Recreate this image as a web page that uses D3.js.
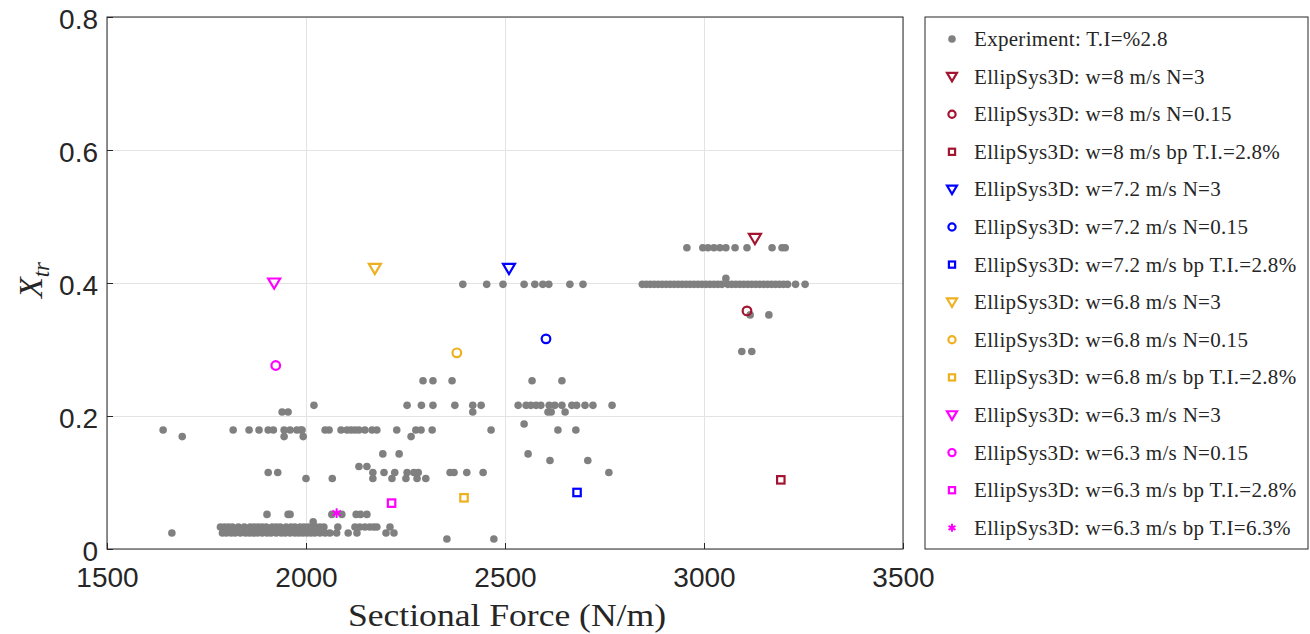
<!DOCTYPE html>
<html>
<head>
<meta charset="utf-8">
<script src="https://cdn.jsdelivr.net/npm/d3@7"></script>
<style>
  body { margin: 0; background: #fff; }
  .grid line { stroke: #e3e3e3; }
  .grid path { display: none; }
</style>
</head>
<body>
<div id="chart"></div>
<script>
// experiment data (force N/m, transition location)
var expForce = [1641, 1689, 1663,
  1817, 1857, 1882, 1905, 1918, 1945, 1960, 1977, 1987, 1990, 2048, 2058, 2088, 2103, 2113, 2123, 2133, 2148, 2166, 2178, 2228, 2276, 2289, 2317, 2465, 2633, 2678,
  1945, 1993, 2264,
  1940, 1955, 2419, 2608, 2616, 2651,
  2020, 2254, 2290, 2319, 2374, 2419, 2440, 2533, 2553, 2565, 2578, 2590, 2611, 2625, 2643, 2668, 2680, 2701, 2721, 2769,
  2548,
  2294, 2319, 2367, 2568, 2643,
  2193, 2234, 2558,
  2613, 2708,
  2133, 2153,
  1905, 1929, 2168, 2196, 2223, 2254, 2271, 2282, 2362, 2372, 2404, 2445, 2761,
  2000, 2066, 2168, 2216, 2251, 2279, 2301,
  1902, 1955, 1960, 2065, 2090, 2126, 2137, 2153,
  2018,
  1785, 1795, 1805, 1815, 1830, 1845, 1860, 1870, 1880, 1890, 1900, 1915, 1925, 1935, 1950, 1962, 1972, 1985, 1995, 2005, 2015, 2025, 2035, 2045, 2080, 2123, 2135, 2148, 2160, 2170, 2178, 2211,
  1790, 1800, 1812, 1822, 1835, 1848, 1858, 1868, 1878, 1890, 1902, 1912, 1925, 1938, 1948, 1960, 1972, 1982, 1992, 2002, 2012, 2022, 2035, 2048, 2060, 2077, 2106, 2128, 2201, 2221,
  2354, 2472,
  2394, 2454, 2495, 2548, 2575, 2595, 2610, 2663, 2696,
  2845, 2855, 2865, 2875, 2885, 2895, 2905, 2915, 2925, 2935, 2945, 2955, 2965, 2975, 2985, 2995, 3005, 3015, 3025, 3035, 3045, 3060, 3070, 3080, 3090, 3100, 3110, 3120, 3130, 3140, 3150, 3160, 3170, 3180, 3190, 3200, 3210, 3230, 3254,
  3055,
  2957, 2997, 3010, 3025, 3040, 3055, 3078, 3108, 3171, 3196, 3204,
  3116, 3163,
  3095, 3120];
var expXtr = [0.179, 0.169, 0.024,
  0.179, 0.179, 0.179, 0.179, 0.179, 0.179, 0.179, 0.179, 0.179, 0.179, 0.179, 0.179, 0.179, 0.179, 0.179, 0.179, 0.179, 0.179, 0.179, 0.179, 0.179, 0.179, 0.179, 0.179, 0.179, 0.179, 0.179,
  0.169, 0.169, 0.169,
  0.206, 0.206, 0.206, 0.206, 0.206, 0.206,
  0.216, 0.216, 0.216, 0.216, 0.216, 0.216, 0.216, 0.216, 0.216, 0.216, 0.216, 0.216, 0.216, 0.216, 0.216, 0.216, 0.216, 0.216, 0.216, 0.216,
  0.188,
  0.253, 0.253, 0.253, 0.253, 0.253,
  0.143, 0.143, 0.143,
  0.133, 0.133,
  0.124, 0.124,
  0.115, 0.115, 0.115, 0.115, 0.115, 0.115, 0.115, 0.115, 0.115, 0.115, 0.115, 0.115, 0.115,
  0.106, 0.106, 0.106, 0.106, 0.106, 0.106, 0.106,
  0.052, 0.052, 0.052, 0.052, 0.052, 0.052, 0.052, 0.052,
  0.041,
  0.033, 0.033, 0.033, 0.033, 0.033, 0.033, 0.033, 0.033, 0.033, 0.033, 0.033, 0.033, 0.033, 0.033, 0.033, 0.033, 0.033, 0.033, 0.033, 0.033, 0.033, 0.033, 0.033, 0.033, 0.033, 0.033, 0.033, 0.033, 0.033, 0.033, 0.033, 0.033,
  0.024, 0.024, 0.024, 0.024, 0.024, 0.024, 0.024, 0.024, 0.024, 0.024, 0.024, 0.024, 0.024, 0.024, 0.024, 0.024, 0.024, 0.024, 0.024, 0.024, 0.024, 0.024, 0.024, 0.024, 0.024, 0.024, 0.024, 0.024, 0.024, 0.024,
  0.015, 0.015,
  0.398, 0.398, 0.398, 0.398, 0.398, 0.398, 0.398, 0.398, 0.398,
  0.398, 0.398, 0.398, 0.398, 0.398, 0.398, 0.398, 0.398, 0.398, 0.398, 0.398, 0.398, 0.398, 0.398, 0.398, 0.398, 0.398, 0.398, 0.398, 0.398, 0.398, 0.398, 0.398, 0.398, 0.398, 0.398, 0.398, 0.398, 0.398, 0.398, 0.398, 0.398, 0.398, 0.398, 0.398, 0.398, 0.398, 0.398, 0.398,
  0.407,
  0.453, 0.453, 0.453, 0.453, 0.453, 0.453, 0.453, 0.453, 0.453, 0.453, 0.453,
  0.352, 0.352,
  0.297, 0.297];

// EllipSys3D runs
var simLabels = ["EllipSys3D: w=8 m/s N=3", "EllipSys3D: w=8 m/s N=0.15", "EllipSys3D: w=8 m/s bp T.I.=2.8%",
  "EllipSys3D: w=7.2 m/s N=3", "EllipSys3D: w=7.2 m/s N=0.15", "EllipSys3D: w=7.2 m/s bp T.I.=2.8%",
  "EllipSys3D: w=6.8 m/s N=3", "EllipSys3D: w=6.8 m/s N=0.15", "EllipSys3D: w=6.8 m/s bp T.I.=2.8%",
  "EllipSys3D: w=6.3 m/s N=3", "EllipSys3D: w=6.3 m/s N=0.15", "EllipSys3D: w=6.3 m/s bp T.I.=2.8%",
  "EllipSys3D: w=6.3 m/s bp T.I=6.3%"];
var simForce = [3128, 3108, 3193, 2510, 2603, 2681, 2173, 2379, 2397, 1920, 1924, 2215, 2077];
var simXtr = [0.467, 0.358, 0.104, 0.422, 0.316, 0.085, 0.422, 0.295, 0.077, 0.400, 0.276, 0.069, 0.054];
var simShape = ["tri", "circ", "sq", "tri", "circ", "sq", "tri", "circ", "sq", "tri", "circ", "sq", "star"];
var simColor = ["#A2142F", "#A2142F", "#A2142F", "#0000FF", "#0000FF", "#0000FF",
  "#EDB120", "#EDB120", "#EDB120", "#FF00FF", "#FF00FF", "#FF00FF", "#FF00FF"];

var xTicks = [1500, 2000, 2500, 3000, 3500];
var yTicks = [0, 0.2, 0.4, 0.6, 0.8];

var margin = {top: 17, left: 107};
var width = 796, height = 532;

var svg = d3.select("#chart").append("svg")
  .attr("width", 1310).attr("height", 634);

var xVerdi = d3.scaleLinear().domain([1500, 3500]).range([0, width]);
var yVerdi = d3.scaleLinear().domain([0, 0.8]).range([height, 0]);

var g = svg.append("g").attr("transform", "translate(" + margin.left + "," + margin.top + ")");

// grid
g.append("g").attr("class", "grid")
  .attr("transform", "translate(0," + height + ")")
  .call(d3.axisBottom(xVerdi).tickValues(xTicks).tickSize(-height).tickFormat(""));
g.append("g").attr("class", "grid")
  .call(d3.axisLeft(yVerdi).tickValues(yTicks).tickSize(-width).tickFormat(""));

// box
g.append("rect").attr("width", width).attr("height", height)
  .style("fill", "none").style("stroke", "#262626").style("stroke-width", 1);

// axes with inward ticks
var xAx = g.append("g").attr("transform", "translate(0," + height + ")")
  .call(d3.axisBottom(xVerdi).tickValues(xTicks).tickSize(-6).tickPadding(18).tickFormat(d3.format("d")));
var yAx = g.append("g")
  .call(d3.axisLeft(yVerdi).tickValues(yTicks).tickSize(-6).tickPadding(9).tickFormat(function(d){ return d === 0 ? "0" : d3.format(".1f")(d); }));
[xAx, yAx].forEach(function(a){
  a.select(".domain").remove();
  a.selectAll("line").style("stroke", "#262626");
  a.selectAll("text").style("font-family", "Liberation Sans, Arial, sans-serif")
    .style("font-size", "28px").style("fill", "#262626");
});
yAx.selectAll("text").attr("dy", "0.42em");

// experiment dots
g.append("g").selectAll("circle")
  .data(expForce.map(function(f, i){ return [f, expXtr[i]]; }))
  .enter().append("circle")
  .attr("cx", function(d){ return xVerdi(d[0]); })
  .attr("cy", function(d){ return yVerdi(d[1]); })
  .attr("r", 3.8)
  .style("fill", "#808080");

// markers
function marker(sel, shape, color, s) {
  if (shape === "tri") {
    sel.append("path")
      .attr("d", "M" + (-s) + "," + (-s * 0.75) + "L" + s + "," + (-s * 0.75) + "L0," + (s * 0.95) + "Z")
      .style("fill", "none").style("stroke", color).style("stroke-width", 2.2);
  } else if (shape === "circ") {
    sel.append("circle").attr("r", s * 0.72)
      .style("fill", "none").style("stroke", color).style("stroke-width", 2.2);
  } else if (shape === "sq") {
    sel.append("rect").attr("x", -s * 0.62).attr("y", -s * 0.62)
      .attr("width", s * 1.24).attr("height", s * 1.24)
      .style("fill", "none").style("stroke", color).style("stroke-width", 2.2);
  } else {
    sel.append("path").attr("d", d3.symbol().type(d3.symbolAsterisk).size(s * s * 1.8)())
      .style("fill", "none").style("stroke", color).style("stroke-width", 2);
  }
}

simForce.forEach(function(f, i){
  var m = g.append("g").attr("transform", "translate(" + xVerdi(f) + "," + yVerdi(simXtr[i]) + ")");
  marker(m, simShape[i], simColor[i], 6);
});

// axis labels
svg.append("text")
  .attr("x", 348).attr("y", 626)
  .attr("textLength", 318).attr("lengthAdjust", "spacingAndGlyphs")
  .style("font-family", "Liberation Serif, serif").style("font-size", "32px").style("fill", "#262626")
  .text("Sectional Force (N/m)");

var yl = svg.append("text")
  .attr("transform", "translate(42," + 280 + ") rotate(-90)")
  .attr("text-anchor", "middle")
  .style("font-family", "Liberation Serif, serif").style("font-size", "34px").style("fill", "#262626");
yl.append("tspan").style("font-style", "italic").text("X");
yl.append("tspan").attr("dy", 7).style("font-size", "23px").style("font-style", "italic").text("tr");

// legend
var leg = svg.append("g").attr("transform", "translate(925,17)");
leg.append("rect").attr("width", 383).attr("height", 532)
  .style("fill", "#fff").style("stroke", "#262626").style("stroke-width", 1);
var legLabels = ["Experiment: T.I=%2.8"].concat(simLabels);
legLabels.forEach(function(t, i){
  var row = leg.append("g").attr("transform", "translate(0," + (22 + i * 37.6) + ")");
  var m = row.append("g").attr("transform", "translate(27,0)");
  if (i === 0) {
    m.append("circle").attr("r", 3.8).style("fill", "#808080");
  } else {
    marker(m, simShape[i - 1], simColor[i - 1], 5);
  }
  row.append("text").attr("x", 49).attr("y", 7)
    .style("font-family", "Liberation Serif, serif").style("font-size", "21px")
    .style("letter-spacing", "0.3px").style("fill", "#262626")
    .text(t);
});
</script>
</body>
</html>
